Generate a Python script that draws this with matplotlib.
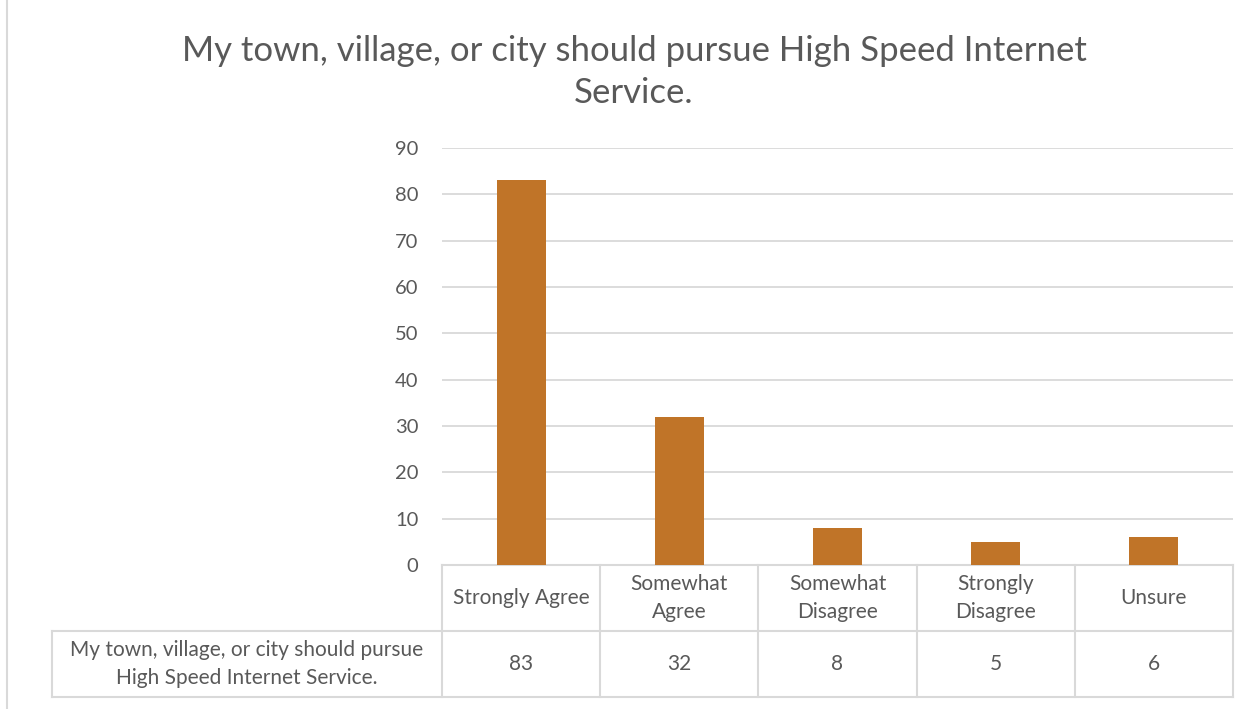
import matplotlib.pyplot as plt
from matplotlib.lines import Line2D

categories = ["Strongly Agree", "Somewhat\nAgree", "Somewhat\nDisagree", "Strongly\nDisagree", "Unsure"]
values = [83, 32, 8, 5, 6]
series_name = "My town, village, or city should pursue\nHigh Speed Internet Service."
title = "My town, village, or city should pursue High Speed Internet\nService."

BAR = "#C07428"
TXT = "#595959"
GRID = "#D9D9D9"

plt.rcParams['font.family'] = ['Lato', 'DejaVu Sans']

W, H = 1260, 709
fig = plt.figure(figsize=(12.6, 7.09), dpi=100)

# plot area in pixels
x0, x1, ytop, ybot = 442, 1233, 148, 565
ax = fig.add_axes([x0 / W, (H - ybot) / H, (x1 - x0) / W, (ybot - ytop) / H])

xs = range(len(categories))
ax.bar(xs, values, width=0.31, color=BAR, zorder=3)
ax.set_xlim(-0.5, len(categories) - 0.5)
ax.set_ylim(0, 90)
ax.set_yticks(range(0, 91, 10))
ax.yaxis.grid(True, color=GRID, linewidth=1.3)
ax.set_axisbelow(True)
ax.tick_params(axis='y', length=0, labelsize=14.5, labelcolor=TXT, pad=17)
ax.set_xticks([])
for s in ax.spines.values():
    s.set_visible(False)

# data table below the plot, drawn in axes coordinates
ah = ybot - ytop
r1 = -66 / ah
r2 = -132 / ah
lx = (52 - x0) / (x1 - x0)
tr = ax.transAxes
n = len(categories)

def hline(xa, xb, y):
    ax.add_line(Line2D([xa, xb], [y, y], transform=tr, color=GRID, lw=1.5, clip_on=False))

def vline(x, ya, yb):
    ax.add_line(Line2D([x, x], [ya, yb], transform=tr, color=GRID, lw=1.5, clip_on=False))

hline(0, 1, 0)
hline(lx, 1, r1)
hline(lx, 1, r2)
for i in range(n + 1):
    vline(i / n, 0, r2)
vline(lx, r1, r2)

for i, (c, v) in enumerate(zip(categories, values)):
    xc = (i + 0.5) / n
    ax.text(xc, r1 / 2, c, transform=tr, ha='center', va='center', fontsize=15,
            color=TXT, linespacing=1.45)
    ax.text(xc, (r1 + r2) / 2, str(v), transform=tr, ha='center', va='center',
            fontsize=15, color=TXT)
ax.text((lx + 0) / 2, (r1 + r2) / 2, series_name, transform=tr, ha='center', va='center',
        fontsize=15, color=TXT, linespacing=1.45)

fig.text(634 / W, 1 - 72 / H, title, ha='center', va='center', fontsize=25,
         color=TXT, linespacing=1.4)

# chart area border (left edge visible)
fig.add_artist(Line2D([7 / W, 7 / W], [0, 1], transform=fig.transFigure, color=GRID, lw=1.5))

fig.savefig("out.png", dpi=100)
